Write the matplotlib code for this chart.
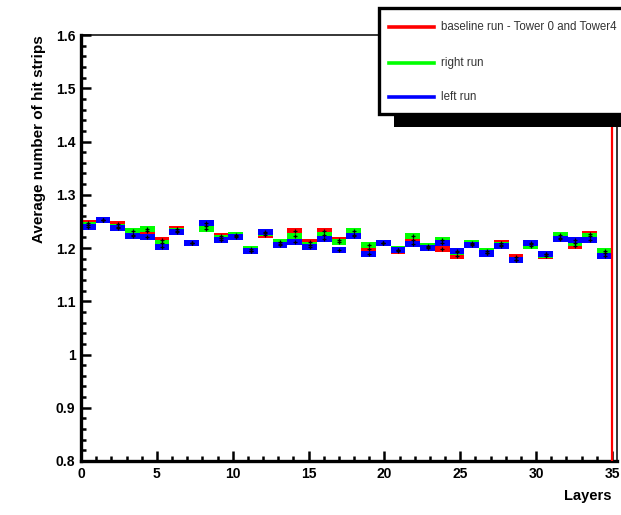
import numpy as np
import matplotlib
matplotlib.use("Agg")
import matplotlib.pyplot as plt
from matplotlib.patches import Rectangle
from matplotlib.lines import Line2D
from matplotlib.ticker import MultipleLocator

plt.rcParams['font.family'] = ['Liberation Sans', 'DejaVu Sans']

# layers 0..35, average number of hit strips per run
layers = np.arange(36)
baseline = [1.247, 1.253, 1.245, 1.224, 1.232, 1.215, 1.236, 1.209, 1.242, 1.222,
            1.222, 1.195, 1.224, 1.207, 1.232, 1.211, 1.232, 1.215, 1.224, 1.198,
            1.209, 1.195, 1.215, 1.201, 1.198, 1.185, 1.207, 1.191, 1.209, 1.183,
            1.207, 1.185, 1.219, 1.204, 1.226, 1.190]
right_run = [1.243, 1.253, 1.239, 1.232, 1.236, 1.209, 1.232, 1.209, 1.236, 1.218,
             1.224, 1.198, 1.228, 1.211, 1.223, 1.205, 1.224, 1.211, 1.232, 1.206,
             1.209, 1.197, 1.223, 1.204, 1.215, 1.192, 1.209, 1.194, 1.205, 1.178,
             1.204, 1.188, 1.224, 1.209, 1.223, 1.194]
left_run = [1.240, 1.253, 1.238, 1.223, 1.221, 1.202, 1.230, 1.209, 1.247, 1.215,
            1.221, 1.194, 1.230, 1.206, 1.211, 1.202, 1.217, 1.196, 1.223, 1.189,
            1.209, 1.196, 1.207, 1.200, 1.209, 1.194, 1.206, 1.190, 1.204, 1.177,
            1.209, 1.189, 1.217, 1.215, 1.215, 1.185]

series = [(baseline, '#ff0000', 'baseline run - Tower 0 and Tower4'),
          (right_run, '#00ff00', 'right run'),
          (left_run, '#0000ff', 'left run')]

fig = plt.figure(figsize=(6.21, 5.15), dpi=100)
ax = fig.add_axes([81 / 621, 54 / 515, 536 / 621, 426 / 515])

# 36 bins spread over 0..35
edges = np.linspace(0, 35, len(layers) + 1)
centers = 0.5 * (edges[:-1] + edges[1:])
width = edges[1] - edges[0]
half = 0.006

for vals, col, lab in series:
    vals = np.asarray(vals)
    ax.bar(centers, 2 * half, bottom=vals - half, width=width, color=col,
           edgecolor='none', zorder=2)
    ax.plot(centers, vals, '+', color='black', ms=3.5, mew=0.9, zorder=3)

ax.axvline(edges[-1], color='#ff0000', lw=1.6, zorder=4)

ax.set_xlim(0, 35.33)
ax.set_ylim(0.8, 1.6)
ax.xaxis.set_major_locator(MultipleLocator(5))
ax.xaxis.set_minor_locator(MultipleLocator(1))
ax.yaxis.set_major_locator(MultipleLocator(0.1))
ax.yaxis.set_minor_locator(MultipleLocator(0.02))
ax.set_yticks(np.arange(0.8, 1.61, 0.1))
ax.set_yticklabels(['0.8', '0.9', '1', '1.1', '1.2', '1.3', '1.4', '1.5', '1.6'])

ax.tick_params(which='both', direction='in', top=False, right=False, width=1.8)
ax.tick_params(which='major', length=7.5, labelsize=10, pad=4)
ax.tick_params(which='minor', length=3.8)
for t in ax.get_xticklabels() + ax.get_yticklabels():
    t.set_fontweight('bold')

for s in ['left', 'bottom']:
    ax.spines[s].set_linewidth(2.4)
for s in ['top', 'right']:
    ax.spines[s].set_linewidth(1.1)

ax.set_ylabel('Average number of hit strips', fontsize=11, fontweight='bold', loc='top')
ax.yaxis.set_label_coords(-0.066, 1.0)
ax.set_xlabel('Layers', fontsize=10.5, fontweight='bold', loc='right')
ax.xaxis.set_label_coords(0.99, -0.066)

# ROOT style legend with shadow, running off the right edge
def fx(px):
    return px / 621

def fy(py):
    return 1 - py / 515

fig.add_artist(Rectangle((fx(394), fy(127)), 0.6, fy(18) - fy(127),
                         transform=fig.transFigure, facecolor='black',
                         edgecolor='none', zorder=5))
fig.add_artist(Rectangle((fx(379), fy(114)), 0.6, fy(8) - fy(114),
                         transform=fig.transFigure, facecolor='white',
                         edgecolor='black', lw=2.4, zorder=6))
for (vals, col, lab), py in zip(series, [27, 63, 97]):
    fig.add_artist(Line2D([fx(389), fx(434)], [fy(py), fy(py)],
                          transform=fig.transFigure, color=col, lw=2.6, zorder=7))
    fig.text(fx(441), fy(py), lab, fontsize=8.3, va='center', ha='left',
             color='#333333', zorder=7)

fig.savefig('out.png', dpi=100)
